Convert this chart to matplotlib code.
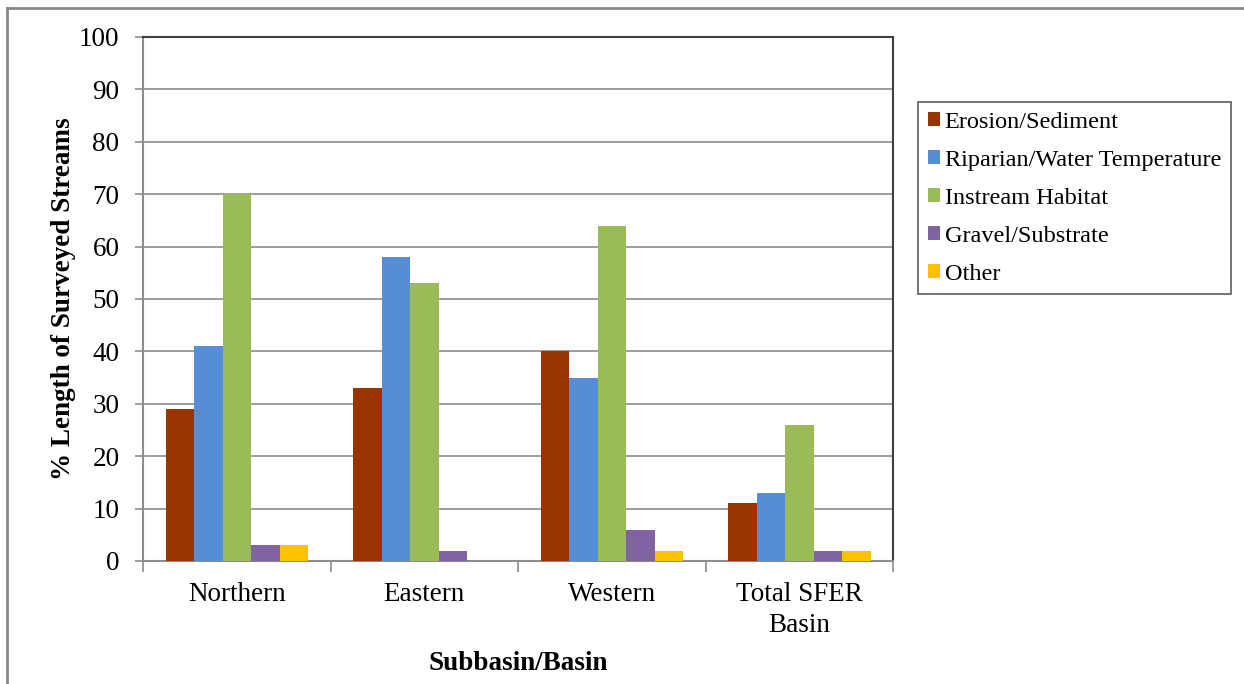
import matplotlib
matplotlib.use("Agg")
import matplotlib.pyplot as plt
from matplotlib.lines import Line2D
import numpy as np

categories = ["Northern", "Eastern", "Western", "Total SFER\nBasin"]
series_names = ["Erosion/Sediment", "Riparian/Water Temperature", "Instream Habitat",
                "Gravel/Substrate", "Other"]
erosion = [29, 33, 40, 11]
riparian = [41, 58, 35, 13]
instream = [70, 53, 64, 26]
gravel = [3, 2, 6, 2]
other = [3, 0, 2, 2]
series_values = [erosion, riparian, instream, gravel, other]
colors = ["#993300", "#558ED5", "#9BBB59", "#8064A2", "#FFC000"]
y_ticks = list(range(0, 101, 10))

plt.rcParams["font.family"] = ["Liberation Serif", "DejaVu Serif"]

W, H = 1244, 684
fig = plt.figure(figsize=(W / 100, H / 100), dpi=100)
ax = fig.add_axes([143 / W, 1 - 561 / H, (893 - 143) / W, (561 - 37) / H])

x = np.arange(len(categories))
bw = 0.152
for i, (vals, col, name) in enumerate(zip(series_values, colors, series_names)):
    ax.bar(x + (i - 2) * bw, vals, width=bw, color=col, label=name,
           edgecolor="none", zorder=3)

ax.set_xlim(-0.5, len(categories) - 0.5)
ax.set_ylim(0, 100)
ax.set_yticks(y_ticks)
ax.set_yticklabels([str(t) for t in y_ticks], fontsize=19.5)
ax.yaxis.grid(True, color="#8c8c8c", linewidth=1.2, zorder=0)
ax.set_axisbelow(True)

ax.set_xticks(x)
ax.set_xticklabels(categories, fontsize=19.5, linespacing=1.35)
ax.tick_params(axis="x", length=0, pad=15)
ax.set_xticks(np.arange(-0.5, len(categories)), minor=True)
ax.tick_params(axis="x", which="minor", length=8, width=1.2, color="#8c8c8c")
ax.tick_params(axis="y", length=6, width=1.2, color="#8c8c8c", pad=11)

for side in ["left", "bottom"]:
    ax.spines[side].set_color("#8c8c8c")
    ax.spines[side].set_linewidth(1.5)
for side in ["top", "right"]:
    ax.spines[side].set_color("#404040")
    ax.spines[side].set_linewidth(1.5)

ax.set_ylabel("% Length of Surveyed Streams", fontsize=19.5, fontweight="bold", labelpad=2)
ax.set_xlabel("Subbasin/Basin", fontsize=19.5, fontweight="bold", labelpad=9)

leg = fig.legend(loc="upper left", bbox_to_anchor=(918 / W, 1 - 102 / H),
                 fontsize=17.5, frameon=True, fancybox=False, edgecolor="#333333",
                 handlelength=0.5, handleheight=0.5, handletextpad=0.2,
                 labelspacing=0.7, borderpad=0.4, borderaxespad=0)
leg.get_frame().set_linewidth(1.2)

# outer frame on the top and left edges
fig.add_artist(Line2D([7 / W, 1243 / W], [1 - 8 / H, 1 - 8 / H], transform=fig.transFigure,
                      color="#888888", linewidth=2))
fig.add_artist(Line2D([7 / W, 7 / W], [0, 1 - 8 / H], transform=fig.transFigure,
                      color="#888888", linewidth=2))

fig.savefig("out.png", dpi=100, facecolor="white")
